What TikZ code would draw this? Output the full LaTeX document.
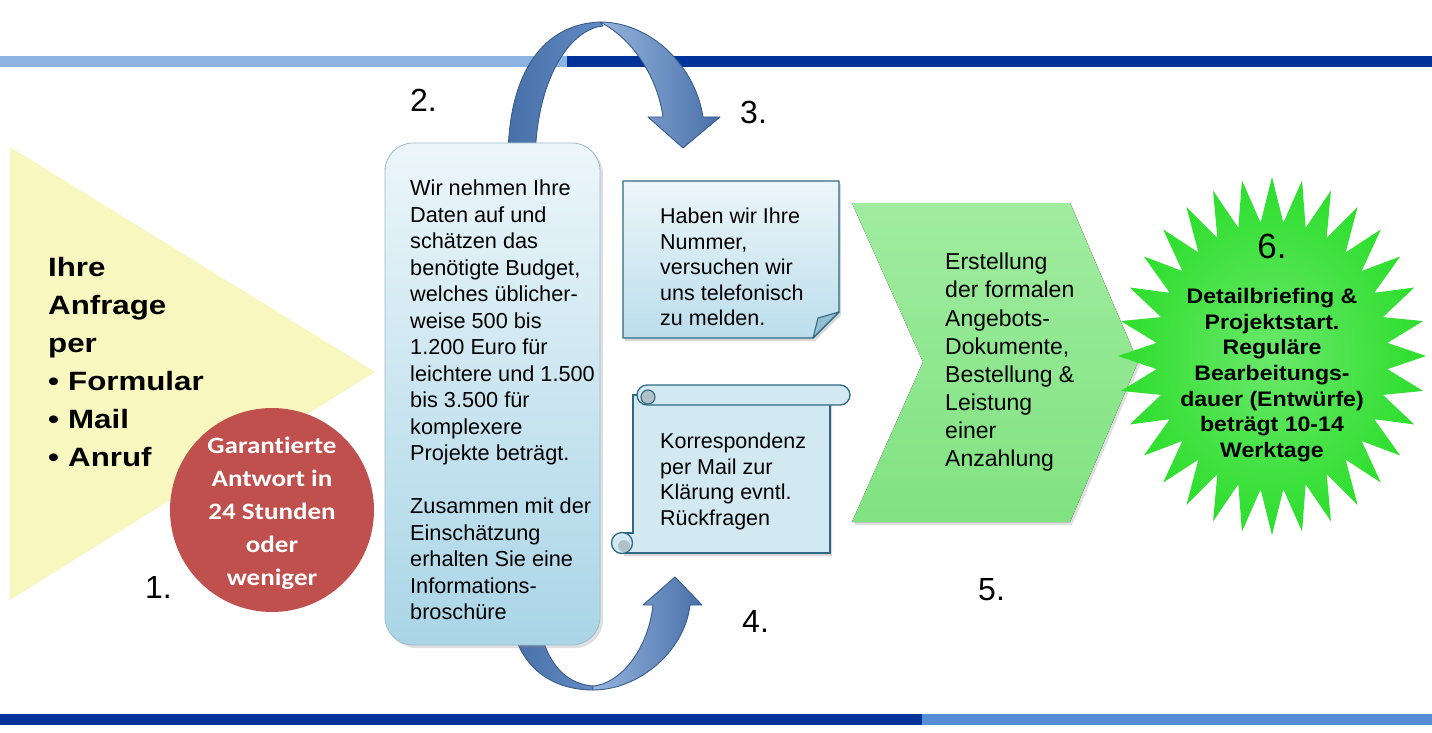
\documentclass[tikz,border=0pt]{standalone}
\usepackage{fontspec}
\setmainfont{Liberation Sans}
\newfontfamily\wedgefont[FakeStretch=1.18]{Liberation Sans}
\newfontfamily\burstfont[FakeStretch=1.1]{Liberation Sans}
\newfontfamily\badgefont[FakeStretch=1.15,Ligatures=NoCommon]{Carlito}
\usetikzlibrary{shadows}
\definecolor{barlight}{RGB}{141,179,226}
\definecolor{bardark}{RGB}{0,51,153}
\definecolor{barmid}{RGB}{85,142,213}
\definecolor{cream}{RGB}{249,247,192}
\definecolor{brick}{RGB}{192,80,77}
\definecolor{iceA}{RGB}{236,246,250}
\definecolor{iceB}{RGB}{170,213,231}
\definecolor{noteline}{RGB}{49,104,130}
\definecolor{curlgray}{RGB}{176,192,200}
\definecolor{arrowdark}{RGB}{72,112,168}
\definecolor{arrowmid}{RGB}{98,138,196}
\definecolor{arrowlight}{RGB}{150,180,222}
\definecolor{arrowline}{RGB}{56,93,138}
\definecolor{leaf}{RGB}{128,226,128}
\definecolor{leaflight}{RGB}{160,236,160}
\definecolor{burstgreen}{RGB}{44,222,44}
\tikzset{
  bar/.style={line width=11pt, line cap=butt},
  wedge/.style={fill=cream},
  badge/.style={fill=brick},
  infobox/.style={rounded corners=28pt, top color=iceA, bottom color=iceB, draw=iceB!70!gray, line width=0.8pt,
    drop shadow={opacity=0.25, shadow xshift=3pt, shadow yshift=-3pt}},
  notecard/.style={top color=iceA, bottom color=iceB!80!white, draw=noteline, line width=1.3pt, line join=round,
    drop shadow={opacity=0.3, shadow xshift=2pt, shadow yshift=-3pt}},
  fold/.style={fill=iceB!80!noteline, draw=noteline, line width=1.1pt, line join=round},
  paper/.style={fill=iceA!60!iceB, draw=noteline, line width=1.3pt},
  curl/.style={fill=curlgray, draw=noteline, line width=1.1pt},
  chevron/.style={top color=leaflight, bottom color=leaf,
    drop shadow={opacity=0.25, shadow xshift=2pt, shadow yshift=-3pt}},
  burst/.style={inner color=burstgreen!70!white, outer color=burstgreen},
  loopback/.style={left color=arrowdark, right color=arrowmid, draw=arrowline, line width=0.9pt, line join=round},
  loopfront/.style={left color=arrowlight, right color=arrowdark, draw=arrowline, line width=0.9pt, line join=round},
  bodytext/.style={font=\fontsize{21.7}{26.5}\selectfont, align=left, inner sep=0pt, anchor=north west},
  steplabel/.style={font=\fontsize{32}{32}\selectfont, inner sep=0pt, anchor=base west},
}
\begin{document}
\begin{tikzpicture}[x=1pt,y=-1pt]
\useasboundingbox (0,0) rectangle (1432,733);
\fill[white] (0,0) rectangle (1432,733);
\draw[bar, barlight] (0,61.5) -- (567,61.5);
\draw[bar, bardark] (567,61.5) -- (1432,61.5);
\draw[bar, bardark] (0,719.5) -- (922,719.5);
\draw[bar, barmid] (922,719.5) -- (1432,719.5);
\draw[loopback] (508,160) .. controls (508,70) and (545,24) .. (600,22) -- (603,26)
  .. controls (575,28) and (537,70) .. (535,160) -- cycle;
\draw[loopfront] (600,22) .. controls (650,22) and (695,65) .. (703,117) -- (720,117) -- (683,148)
  -- (648,117) -- (663,117) .. controls (658,80) and (635,40) .. (600,22) -- cycle;
\draw[loopback] (513,630) .. controls (525,675) and (560,690) .. (593,690) -- (593,686)
  .. controls (570,684) and (550,670) .. (540,630) -- cycle;
\draw[loopfront] (593,690) .. controls (640,690) and (685,650) .. (690,605) -- (702,605) -- (675,577)
  -- (643,605) -- (653,605) .. controls (648,650) and (620,684) .. (593,686) -- cycle;
\fill[wedge] (10,147) -- (375,372) -- (10,600) -- cycle;
\fill[badge] (272,510) circle (102);
\draw[infobox] (385,143) rectangle (600,645);
\draw[notecard] (623,181) -- (839,181) -- (839,312) -- (813,338) -- (623,338) -- cycle;
\draw[fold] (839,312) -- (818,318) -- (813,338) -- cycle;
\draw[paper, drop shadow={opacity=0.3, shadow xshift=2pt, shadow yshift=-3pt}] (633,395) -- (830,395) -- (830,553) -- (622,553) -- (622,533) -- (633,533) -- cycle;
\draw[paper] (622,543) circle (10.5);
\fill[curlgray] (624,546) circle (6);
\draw[paper, rounded corners=10pt] (637,385) rectangle (850,405);
\draw[curl] (648,397) circle (7);
\fill[chevron] (852,203) -- (1070,203) -- (1138,362) -- (1070,522) -- (852,522) -- (923,362) -- cycle;
\path[burst] plot[samples at={0,...,63}, variable=\k]
  ({1272+ifthenelse(mod(\k,2)==0,154,116)*sin(\k*5.625)}, {356-ifthenelse(mod(\k,2)==0,179,134)*cos(\k*5.625)}) -- cycle;
\node[font=\wedgefont\bfseries\fontsize{26.5}{38}\selectfont, align=left, inner sep=0pt, anchor=north west] (request) at (48,257)
  {Ihre\\Anfrage\\per\\\makebox[20pt][l]{•}Formular\\\makebox[20pt][l]{•}Mail\\\makebox[20pt][l]{•}Anruf};
\node[font=\badgefont\bfseries\fontsize{23.5}{33}\selectfont, text=white, align=center, inner sep=0pt] (promise) at (272,513)
  {Garantierte\\Antwort in\\24 Stunden\\oder\\weniger};
\node[bodytext] (estimate) at (410,180)
  {Wir nehmen Ihre\\Daten auf und\\schätzen das\\benötigte Budget,\\welches üblicher-\\weise 500 bis\\1.200 Euro für\\leichtere und 1.500\\bis 3.500 für\\komplexere\\Projekte beträgt.\\[26.5pt]Zusammen mit der\\Einschätzung\\erhalten Sie eine\\Informations-\\broschüre};
\node[bodytext, font=\fontsize{21.5}{25.5}\selectfont] (phone) at (660,208)
  {Haben wir Ihre\\Nummer,\\versuchen wir\\uns telefonisch\\zu melden.};
\node[bodytext, font=\fontsize{21.5}{25.5}\selectfont] (mail) at (660,433)
  {Korrespondenz\\per Mail zur\\Klärung evntl.\\Rückfragen};
\node[bodytext, font=\fontsize{23}{28.1}\selectfont] (offer) at (945,253)
  {Erstellung\\der formalen\\Angebots-\\Dokumente,\\Bestellung \&\\Leistung\\einer\\Anzahlung};
\node[font=\fontsize{35}{35}\selectfont, inner sep=0pt] (stepsix) at (1272,246) {6.};
\node[font=\burstfont\bfseries\fontsize{21}{25.7}\selectfont, align=center, inner sep=0pt, anchor=north] (kickoff) at (1272,288)
  {Detailbriefing \&\\Projektstart.\\Reguläre\\Bearbeitungs-\\dauer (Entwürfe)\\beträgt 10-14\\Werktage};
\node[steplabel] (stepone) at (145,598) {1.};
\node[steplabel] (steptwo) at (410,112) {2.};
\node[steplabel] (stepthree) at (740,124) {3.};
\node[steplabel] (stepfour) at (742,632) {4.};
\node[steplabel] (stepfive) at (978,600) {5.};
\end{tikzpicture}
\end{document}
